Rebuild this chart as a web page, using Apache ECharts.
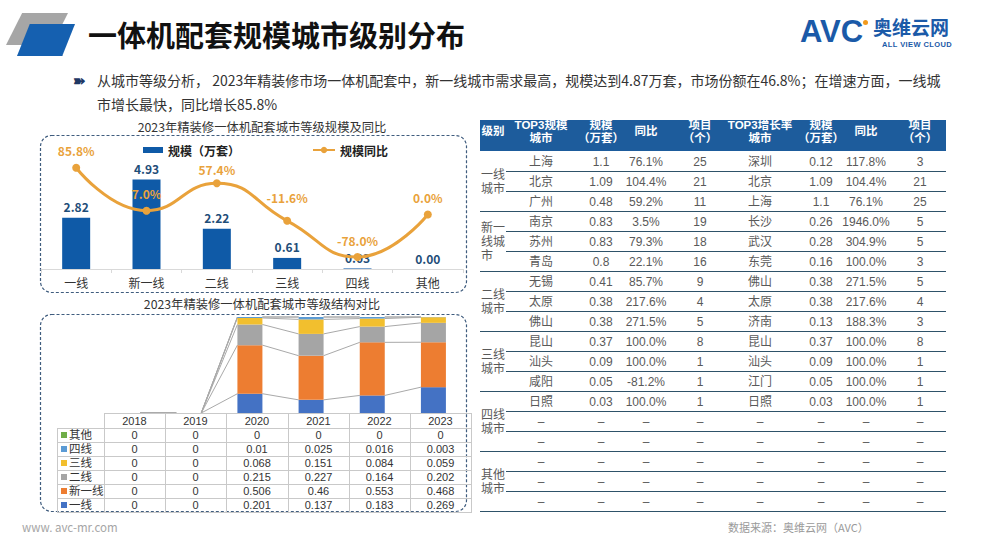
<!DOCTYPE html>
<html><head><meta charset="utf-8">
<script src="https://cdn.jsdelivr.net/npm/echarts@6/dist/echarts.min.js"></script>
<style>
html,body{margin:0;padding:0}
body{width:982px;height:550px;overflow:hidden;background:#fff;position:relative;font-family:"Noto Sans CJK SC","Noto Sans",sans-serif}
.abs{position:absolute}
#chart{position:absolute;left:0;top:0;width:982px;height:550px}
#title{left:88px;top:14px;font-size:29px;font-weight:700;color:#111;letter-spacing:0px;line-height:40px;white-space:nowrap}
#bullet{left:73px;top:68px;font-size:15px;font-weight:700;color:#1F3864;line-height:24px}
#desc{left:97px;top:68px;font-size:14px;color:#333;line-height:24px;white-space:nowrap}
.tf{font-family:"Liberation Sans","Noto Sans CJK SC",sans-serif}
.rt{position:absolute;text-align:center;white-space:nowrap;font-size:12px;color:#595959;line-height:16px;transform:translateX(-50%)}
.rh{position:absolute;text-align:center;white-space:nowrap;font-size:11.5px;color:#fff;font-weight:700;line-height:13.5px;transform:translateX(-50%)}
.ln{position:absolute;height:1px;background:#2E5269}
.lvl{position:absolute;left:481px;font-size:12px;color:#595959;line-height:14px}
#btable{position:absolute;left:57px;top:413px;border-collapse:collapse;table-layout:fixed;font-size:11px;color:#333;font-family:"Liberation Sans","Noto Sans CJK SC",sans-serif}
#btable td{border:1px solid #C9C9C9;padding:0;text-align:center;height:13px;line-height:13px;white-space:nowrap}
#btable tr.hd td{height:14px;line-height:14px}
#btable td.lab{text-align:left;padding-left:3px;font-size:11.5px}
.sq{display:inline-block;width:6px;height:6px;margin-right:2px;vertical-align:middle;position:relative;top:-1px}
</style></head>
<body>
<div id="chart"></div>
<div class="abs" style="left:6px;top:13px;width:62px;height:32px;background:#A6A6A6;clip-path:polygon(26% 0,100% 0,74% 100%,0 100%)"></div>
<div class="abs" style="left:17px;top:24px;width:58px;height:32px;background:#1560B0;clip-path:polygon(22% 0,100% 0,78% 100%,0 100%);box-shadow:2px 2px 3px #999"></div>
<div id="title" class="abs">一体机配套规模城市级别分布</div>
<div class="abs" style="left:800px;top:15px;font-family:'Liberation Sans',Arial,sans-serif;font-weight:900;font-size:31px;color:#1B5AA8;letter-spacing:0px;line-height:34px">AVC</div>
<div class="abs" style="left:863px;top:20px;width:5px;height:5px;border-radius:50%;background:#F29B1D"></div>
<div class="abs" style="left:873px;top:16px;font-weight:700;font-size:19px;color:#1B5AA8;line-height:22px">奥维云网</div>
<div class="abs" style="left:882px;top:40px;font-family:'Liberation Sans',Arial,sans-serif;font-weight:700;font-size:7.5px;color:#1B5AA8;line-height:9px;letter-spacing:0.4px">ALL VIEW CLOUD</div>
<div id="bullet" class="abs">➽</div>
<div id="desc" class="abs">从城市等级分析， 2023年精装修市场一体机配套中，新一线城市需求最高，规模达到4.87万套，市场份额在46.8%；在增速方面，一线城<br>市增长最快，同比增长85.8%</div>
<div class="abs" style="left:0;top:119px;width:524px;text-align:center;font-size:12.3px;color:#333;line-height:16px">2023年精装修一体机配套城市等级规模及同比</div>
<div class="abs" style="left:0;top:296px;width:524px;text-align:center;font-size:12.3px;color:#333;line-height:16px">2023年精装修一体机配套城市等级结构对比</div>
<table id="btable"></table>
<div id="rtable"></div>
<div class="abs" style="left:22px;top:519px;font-size:11.5px;color:#A6A6A6;line-height:16px">www. avc-mr.com</div>
<div class="abs" style="left:728px;top:519px;font-size:11px;color:#9A9A9A;line-height:16px">数据来源：奥维云网（AVC）</div>
<script>
// ---------- top chart data ----------
const topCategories = ['一线','新一线','二线','三线','四线','其他'];
const scaleValues = [2.82, 4.93, 2.22, 0.61, 0.03, 0.00];
const yoyValues = [85.8, 7.0, 57.4, -11.6, -78.0, 0.0];

// ---------- structure chart data ----------
const years = ['2018','2019','2020','2021','2022','2023'];
const tierNames = ['一线','新一线','二线','三线','四线','其他'];
const tier1Share = [0, 0, 0.201, 0.137, 0.183, 0.269];
const newTier1Share = [0, 0, 0.506, 0.46, 0.553, 0.468];
const tier2Share = [0, 0, 0.215, 0.227, 0.164, 0.202];
const tier3Share = [0, 0, 0.068, 0.151, 0.084, 0.059];
const tier4Share = [0, 0, 0.01, 0.025, 0.016, 0.003];
const otherShare = [0, 0, 0, 0, 0, 0];
const tierColors = ['#4472C4','#ED7D31','#A5A5A5','#F2BF2E','#5B9BD5','#70AD47'];

// ---------- right table data ----------
const levelLabels = ['一线<br>城市','新一<br>线城<br>市','二线<br>城市','三线<br>城市','四线<br>城市','其他<br>城市'];
const headerLabels = ['TOP3规模<br>城市','规模<br>（万套）','同比','项目<br>（个）','TOP3增长率<br>城市','规模<br>（万套）','同比','项目<br>（个）'];
const D = '–';
const scaleCity = ['上海','北京','广州','南京','苏州','青岛','无锡','太原','佛山','昆山','汕头','咸阳','日照',D,D,D,D,D];
const scaleVal = ['1.1','1.09','0.48','0.83','0.83','0.8','0.41','0.38','0.38','0.37','0.09','0.05','0.03',D,D,D,D,D];
const scaleYoy = ['76.1%','104.4%','59.2%','3.5%','79.3%','22.1%','85.7%','217.6%','271.5%','100.0%','100.0%','-81.2%','100.0%',D,D,D,D,D];
const scaleProj = ['25','21','11','19','18','16','9','4','5','8','1','1','1',D,D,D,D,D];
const growthCity = ['深圳','北京','上海','长沙','武汉','东莞','佛山','太原','济南','昆山','汕头','江门','日照',D,D,D,D,D];
const growthVal = ['0.12','1.09','1.1','0.26','0.28','0.16','0.38','0.38','0.13','0.37','0.09','0.05','0.03',D,D,D,D,D];
const growthYoy = ['117.8%','104.4%','76.1%','1946.0%','304.9%','100.0%','271.5%','217.6%','188.3%','100.0%','100.0%','100.0%','100.0%',D,D,D,D,D];
const growthProj = ['3','21','25','5','5','3','5','4','3','8','1','1','1',D,D,D,D,D];

// ---------- build right table ----------
(function(){
  const rt = document.getElementById('rtable');
  let h = '';
  const cx = [541,601,646,700,760,821,866,920];
  h += '<div class="abs" style="left:480px;top:120px;width:466px;height:31px;background:#1D5C9C"></div>';
  h += '<div class="rh tf" style="left:493px;top:125px">级别</div>';
  headerLabels.forEach((t,i)=>{
    const two = t.indexOf('<br>')>=0;
    h += '<div class="rh tf" style="left:'+cx[i]+'px;top:'+(two?118.5:125)+'px">'+t+'</div>';
  });
  const cols = [scaleCity,scaleVal,scaleYoy,scaleProj,growthCity,growthVal,growthYoy,growthProj];
  const y0 = 151.7, rh = 20;
  for(let r=0;r<18;r++){
    const top = y0 + r*rh;
    cols.forEach((c,i)=>{
      h += '<div class="rt tf" style="left:'+cx[i]+'px;top:'+(top+2)+'px">'+c[r]+'</div>';
    });
    const last = (r%3===2);
    const lx = last?480:506;
    h += '<div class="ln" style="left:'+lx+'px;top:'+(top+rh-0.5)+'px;width:'+(946-lx)+'px"></div>';
  }
  levelLabels.forEach((t,g)=>{
    const n = t.split('<br>').length;
    const center = y0 + g*60 + 30;
    h += '<div class="lvl tf" style="top:'+(center - n*14/2)+'px">'+t+'</div>';
  });
  rt.innerHTML = h;
})();

// ---------- build bottom-left table ----------
(function(){
  const tb = document.getElementById('btable');
  const widths = [40,61,61,62,61,61,61];
  let h = '<colgroup>'+widths.map(w=>'<col style="width:'+w+'px">').join('')+'</colgroup>';
  h += '<tr class="hd"><td style="border-top:none;border-left:none"></td>'+years.map(y=>'<td>'+y+'</td>').join('')+'</tr>';
  const shares = [tier1Share,newTier1Share,tier2Share,tier3Share,tier4Share,otherShare];
  for(let k=5;k>=0;k--){
    h += '<tr><td class="lab"><span class="sq" style="background:'+tierColors[k]+'"></span>'+tierNames[k]+'</td>'+
      shares[k].map(v=>'<td>'+String(v)+'</td>').join('')+'</tr>';
  }
  tb.innerHTML = h;
})();

// ---------- chart ----------
const FONT = '"Noto Sans CJK SC","Noto Sans",sans-serif';
const chart = echarts.init(document.getElementById('chart'), null, {renderer:'svg'});
const shares = [tier1Share,newTier1Share,tier2Share,tier3Share,tier4Share,otherShare];
const cum = years.map((_,i)=>{ let s=0; return shares.map(a=>{ s+=a[i]; return Math.min(s,1); }); });
const BW2 = 25;
const stackSeries = tierNames.map((n,k)=>({
  name:n, type:'bar', xAxisIndex:1, yAxisIndex:2, stack:'share', barWidth:BW2,
  data: shares[k], itemStyle:{color:tierColors[k]}, silent:true
}));
const connectorSeries = tierNames.map((n,k)=>({
  type:'custom', xAxisIndex:1, yAxisIndex:2, silent:true, z:1,
  encode:{x:0,y:1},
  data: years.slice(0,-1).map((_,i)=>[i, cum[i][k], cum[i+1][k]]),
  renderItem:function(params, api){
    const i = api.value(0);
    const p1 = api.coord([i, api.value(1)]);
    const p2 = api.coord([i+1, api.value(2)]);
    const half = BW2/2;
    return {type:'line', shape:{x1:p1[0]+half, y1:p1[1], x2:p2[0]-half, y2:p2[1]},
      style:{stroke:'#A9A9A9', lineWidth:1}};
  }
}));
const LINEC = '#E9A23B';
const labelDist = [7, 7, 4, 13, 7, 7];
chart.setOption({
  animation:false,
  textStyle:{fontFamily:FONT},
  graphic:[
    {type:'rect', shape:{x:40.5,y:135.5,width:426,height:157,r:11}, style:{fill:'none',stroke:'#3F5C7E',lineWidth:1.2,lineDash:[3,2]}, silent:true},
    {type:'rect', shape:{x:40.5,y:314.5,width:426,height:197,r:11}, style:{fill:'none',stroke:'#3F5C7E',lineWidth:1.2,lineDash:[3,2]}, silent:true}
  ],
  legend:[
    {data:['规模（万套）'], left:138, top:139, itemWidth:20, itemHeight:6, icon:'rect', itemGap:4,
      textStyle:{fontWeight:'bold',fontSize:12,color:'#222',fontFamily:FONT}, selectedMode:false},
    {data:['规模同比'], left:307, top:139, itemWidth:22, itemHeight:8, itemGap:4,
      textStyle:{fontWeight:'bold',fontSize:12,color:'#222',fontFamily:FONT}, selectedMode:false}
  ],
  grid:[
    {left:41, top:160, width:422, height:109},
    {left:97, top:317, width:367, height:96}
  ],
  xAxis:[
    {gridIndex:0, type:'category', data:topCategories,
      axisLine:{lineStyle:{color:'#D9D9D9'}},
      axisTick:{show:true, length:4, lineStyle:{color:'#D9D9D9'}},
      axisLabel:{color:'#333', fontSize:12, margin:7, fontFamily:FONT}},
    {gridIndex:1, type:'category', data:years, show:false}
  ],
  yAxis:[
    {gridIndex:0, type:'value', min:0, max:6, show:false},
    {gridIndex:0, type:'value', min:-100, max:100, show:false},
    {gridIndex:1, type:'value', min:0, max:1, show:false}
  ],
  series:[
    {name:'规模（万套）', type:'bar', xAxisIndex:0, yAxisIndex:0, data:scaleValues, barWidth:28,
      itemStyle:{color:'#0F5AA7'},
      label:{show:true, position:'top', distance:5, color:'#1F4E79', fontWeight:'bold', fontSize:12, fontFamily:FONT,
        formatter:p=>p.value.toFixed(2)}},
    {name:'规模同比', type:'line', xAxisIndex:0, yAxisIndex:1, smooth:0.5,
      data: yoyValues.map((v,i)=> ({value:v, label:{distance:labelDist[i]}})),
      symbol:'circle', symbolSize:8, lineStyle:{color:LINEC, width:3}, itemStyle:{color:LINEC}, z:3,
      label:{show:true, position:'top', distance:7, color:LINEC, fontWeight:'bold', fontSize:12, fontFamily:FONT,
        formatter:p=>p.value.toFixed(1)+'%'}},
    ...stackSeries,
    ...connectorSeries
  ]
});
</script>
</body></html>
